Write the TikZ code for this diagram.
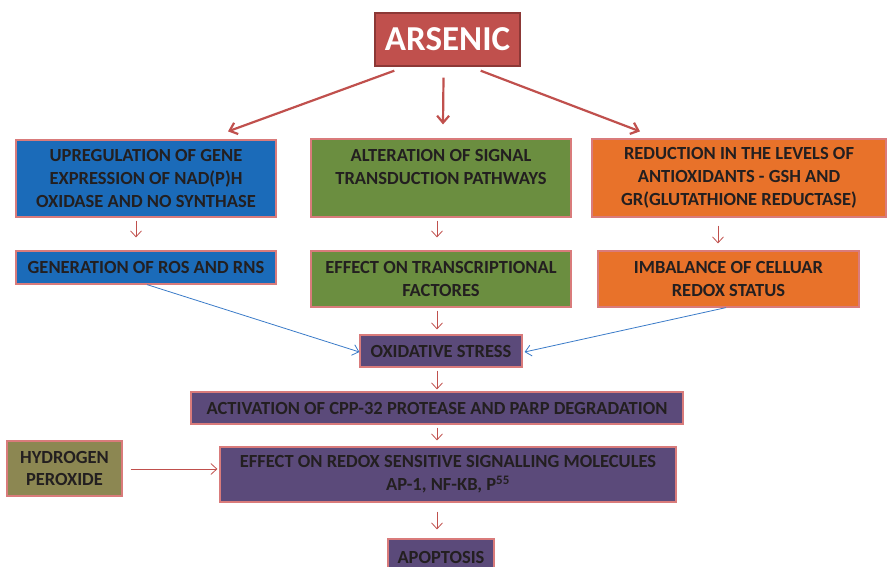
\documentclass[tikz,border=0pt]{standalone}
\usepackage{fontspec}
\setmainfont{Carlito}
\usetikzlibrary{arrows.meta}
\definecolor{txt}{HTML}{231F20}
\definecolor{arsfill}{HTML}{C0504D}
\definecolor{arsedge}{HTML}{8C3836}
\definecolor{edge}{HTML}{D97B7B}
\definecolor{bluefill}{HTML}{1B6BB9}
\definecolor{greenfill}{HTML}{6B8E40}
\definecolor{orangefill}{HTML}{E8722A}
\definecolor{purplefill}{HTML}{5B4A7A}
\definecolor{olivefill}{HTML}{8C8752}
\definecolor{redline}{HTML}{C0504D}
\definecolor{blueline}{HTML}{3A7BC8}
\tikzset{
  box/.style={draw=edge, line width=1.2pt, inner sep=0pt, align=center,
    text=txt, font=\bfseries\fontsize{18.5}{22.7}\selectfont},
  thin/.style={draw=redline, line width=0.8pt, -{Straight Barb[length=6pt,width=11pt]}},
  thick/.style={draw=redline, line width=2.2pt, -{Straight Barb[length=7pt,width=12pt]}},
  bluearrow/.style={draw=blueline, line width=0.8pt, -{Straight Barb[length=6pt,width=11pt]}}
}
\begin{document}
\begin{tikzpicture}[x=1pt,y=-1pt]
\useasboundingbox (0,0) rectangle (887,566);

% source
\node[draw=arsedge, fill=arsfill, line width=1.4pt, text=white,
      font=\bfseries\fontsize{35}{35}\selectfont,
      minimum width=145, minimum height=53, inner sep=0pt] (ars) at (447.5,39.5) {ARSENIC};

% first row
\node[box, fill=bluefill, minimum width=260, minimum height=77] (up) at (146,178.5)
  {UPREGULATION OF GENE\\EXPRESSION OF NAD(P)H\\OXIDASE AND NO SYNTHASE};
\node[box, fill=greenfill, minimum width=260, minimum height=78] (alt) at (441,178)
  {ALTERATION OF SIGNAL\\TRANSDUCTION PATHWAYS\\\mbox{}};
\node[box, fill=orangefill, minimum width=294, minimum height=78] (red) at (739,178)
  {REDUCTION IN THE LEVELS OF\\ANTIOXIDANTS - GSH AND\\GR(GLUTATHIONE REDUCTASE)};

% second row
\node[box, fill=bluefill, minimum width=260, minimum height=33] (gen) at (146,267.5)
  {GENERATION OF ROS AND RNS};
\node[box, fill=greenfill, minimum width=260, minimum height=56] (eff) at (441,279)
  {EFFECT ON TRANSCRIPTIONAL\\FACTORES};
\node[box, fill=orangefill, minimum width=261, minimum height=56] (imb) at (728.5,279)
  {IMBALANCE OF CELLUAR\\REDOX STATUS};

% central chain
\node[box, fill=purplefill, minimum width=162, minimum height=32] (ox) at (441,351)
  {OXIDATIVE STRESS};
\node[box, fill=purplefill, minimum width=492, minimum height=32] (act) at (437,408)
  {ACTIVATION OF CPP-32 PROTEASE AND PARP DEGRADATION};
\node[box, fill=olivefill, minimum width=115, minimum height=55] (hp) at (64.5,468.5)
  {HYDROGEN\\PEROXIDE};
\node[box, fill=purplefill, minimum width=456, minimum height=55] (sig) at (448,474.5)
  {EFFECT ON REDOX SENSITIVE SIGNALLING MOLECULES\\AP-1, NF-KB, P\textsuperscript{55}};
\node[box, fill=purplefill, minimum width=106, minimum height=36] (apo) at (441,557)
  {APOPTOSIS};

% connectors (yshift is in page units: positive moves up)
\draw[thick] (ars.south west)++(20,4) -- ([xshift=-8pt,yshift=8pt]up.north -| 236,140);
\draw[thick] (ars.south) ++(-4,11) -- ([yshift=14pt]alt.north -| 443,139);
\draw[thick] (ars.south east)++(-40,4) -- ([yshift=7pt]red.north -| 640,139);

\draw[thin] (up.south -| 136,0) ++(0,3) -- ([yshift=13pt]gen.north -| 136,0);
\draw[thin] (alt.south -| 437,0) ++(0,3) -- ([yshift=13pt]eff.north -| 437,0);
\draw[thin] (red.south -| 718,0) ++(0,8) -- ([yshift=7pt]imb.north -| 718,0);
\draw[thin] (eff.south -| 437,0) ++(0,3) -- ([yshift=5pt]ox.north -| 437,0);
\draw[thin] (ox.south -| 437,0) ++(0,3) -- ([yshift=2pt]act.north -| 437,0);
\draw[thin] (act.south -| 437,0) ++(0,3) -- ([yshift=6pt]sig.north -| 437,0);
\draw[thin] (sig.south -| 437,0) ++(0,9) -- ([yshift=9pt]apo.north -| 437,0);
\draw[thin] (hp.east |- 0,469) ++(8,0) -- ([xshift=-2pt]sig.west |- 0,469);

\draw[bluearrow] (gen.south -| 147,0) -- (ox.west |- 0,352);
\draw[bluearrow] (imb.south -| 726,0) -- ([xshift=2pt]ox.east |- 0,352);
\end{tikzpicture}
\end{document}
